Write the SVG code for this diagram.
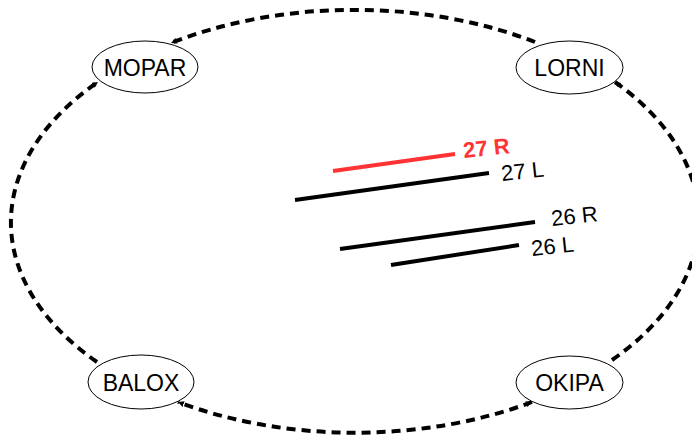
<svg xmlns="http://www.w3.org/2000/svg" width="692" height="435" viewBox="0 0 692 435">
<style>
.node ellipse{fill:#fff;stroke:#000;stroke-width:1}
.node text{font-family:"Liberation Sans",Arial,sans-serif;font-size:23px;text-anchor:middle;fill:#000}
.arc{fill:none;stroke:#000;stroke-width:4;stroke-dasharray:9 6}
.rw{stroke-width:4;fill:none}
.lbl{font-family:"Liberation Sans",Arial,sans-serif;font-size:22px;fill:#000}
</style>
<defs>
<marker id="ah" viewBox="0 0 6 6" refX="6" refY="3" markerWidth="6" markerHeight="6" markerUnits="userSpaceOnUse" orient="auto">
<path d="M0,0 L6,3 L0,6 z" fill="#000"/>
</marker>
<marker id="as" viewBox="0 0 6 6" refX="0" refY="3" markerWidth="6" markerHeight="6" markerUnits="userSpaceOnUse" orient="auto">
<path d="M6,0 L0,3 L6,6 z" fill="#000"/>
</marker>
</defs>
<g id="connectors">
<path class="arc" d="M535,42 A340,210 0 0 0 171,43" marker-end="url(#ah)"/>
<path class="arc" d="M97,362 A340,210 0 0 1 98,82" marker-end="url(#ah)"/>
<path class="arc" d="M612,360 A340,210 0 0 0 615,82" marker-end="url(#ah)"/>
<path class="arc" d="M532,402 A340,210 0 0 1 178,402" marker-start="url(#as)" marker-end="url(#ah)"/>
</g>
<g id="runways">
<line class="rw" x1="333" y1="171" x2="455" y2="154" stroke="#ff3333"/>
<line class="rw" x1="295" y1="200" x2="489" y2="173" stroke="#000"/>
<line class="rw" x1="340" y1="249" x2="535" y2="222" stroke="#000"/>
<line class="rw" x1="391" y1="265" x2="519" y2="245" stroke="#000"/>
<text class="lbl" x="464" y="158" transform="rotate(-6 464 158)" style="fill:#ff3333;font-weight:bold">27 R</text>
<text class="lbl" x="502" y="181" transform="rotate(-6 502 181)">27 L</text>
<text class="lbl" x="552" y="226" transform="rotate(-6 552 226)">26 R</text>
<text class="lbl" x="532" y="256" transform="rotate(-6 532 256)">26 L</text>
</g>
<g id="MOPAR" class="node"><ellipse cx="145" cy="67" rx="53" ry="26"/><text x="145" y="75.5">MOPAR</text></g>
<g id="LORNI" class="node"><ellipse cx="569.5" cy="67.5" rx="53.5" ry="26.5"/><text x="569.5" y="76">LORNI</text></g>
<g id="BALOX" class="node"><ellipse cx="141" cy="382" rx="53" ry="27"/><text x="141" y="390.5">BALOX</text></g>
<g id="OKIPA" class="node"><ellipse cx="569.5" cy="382.5" rx="53.5" ry="26.5"/><text x="569.5" y="391">OKIPA</text></g>
</svg>
